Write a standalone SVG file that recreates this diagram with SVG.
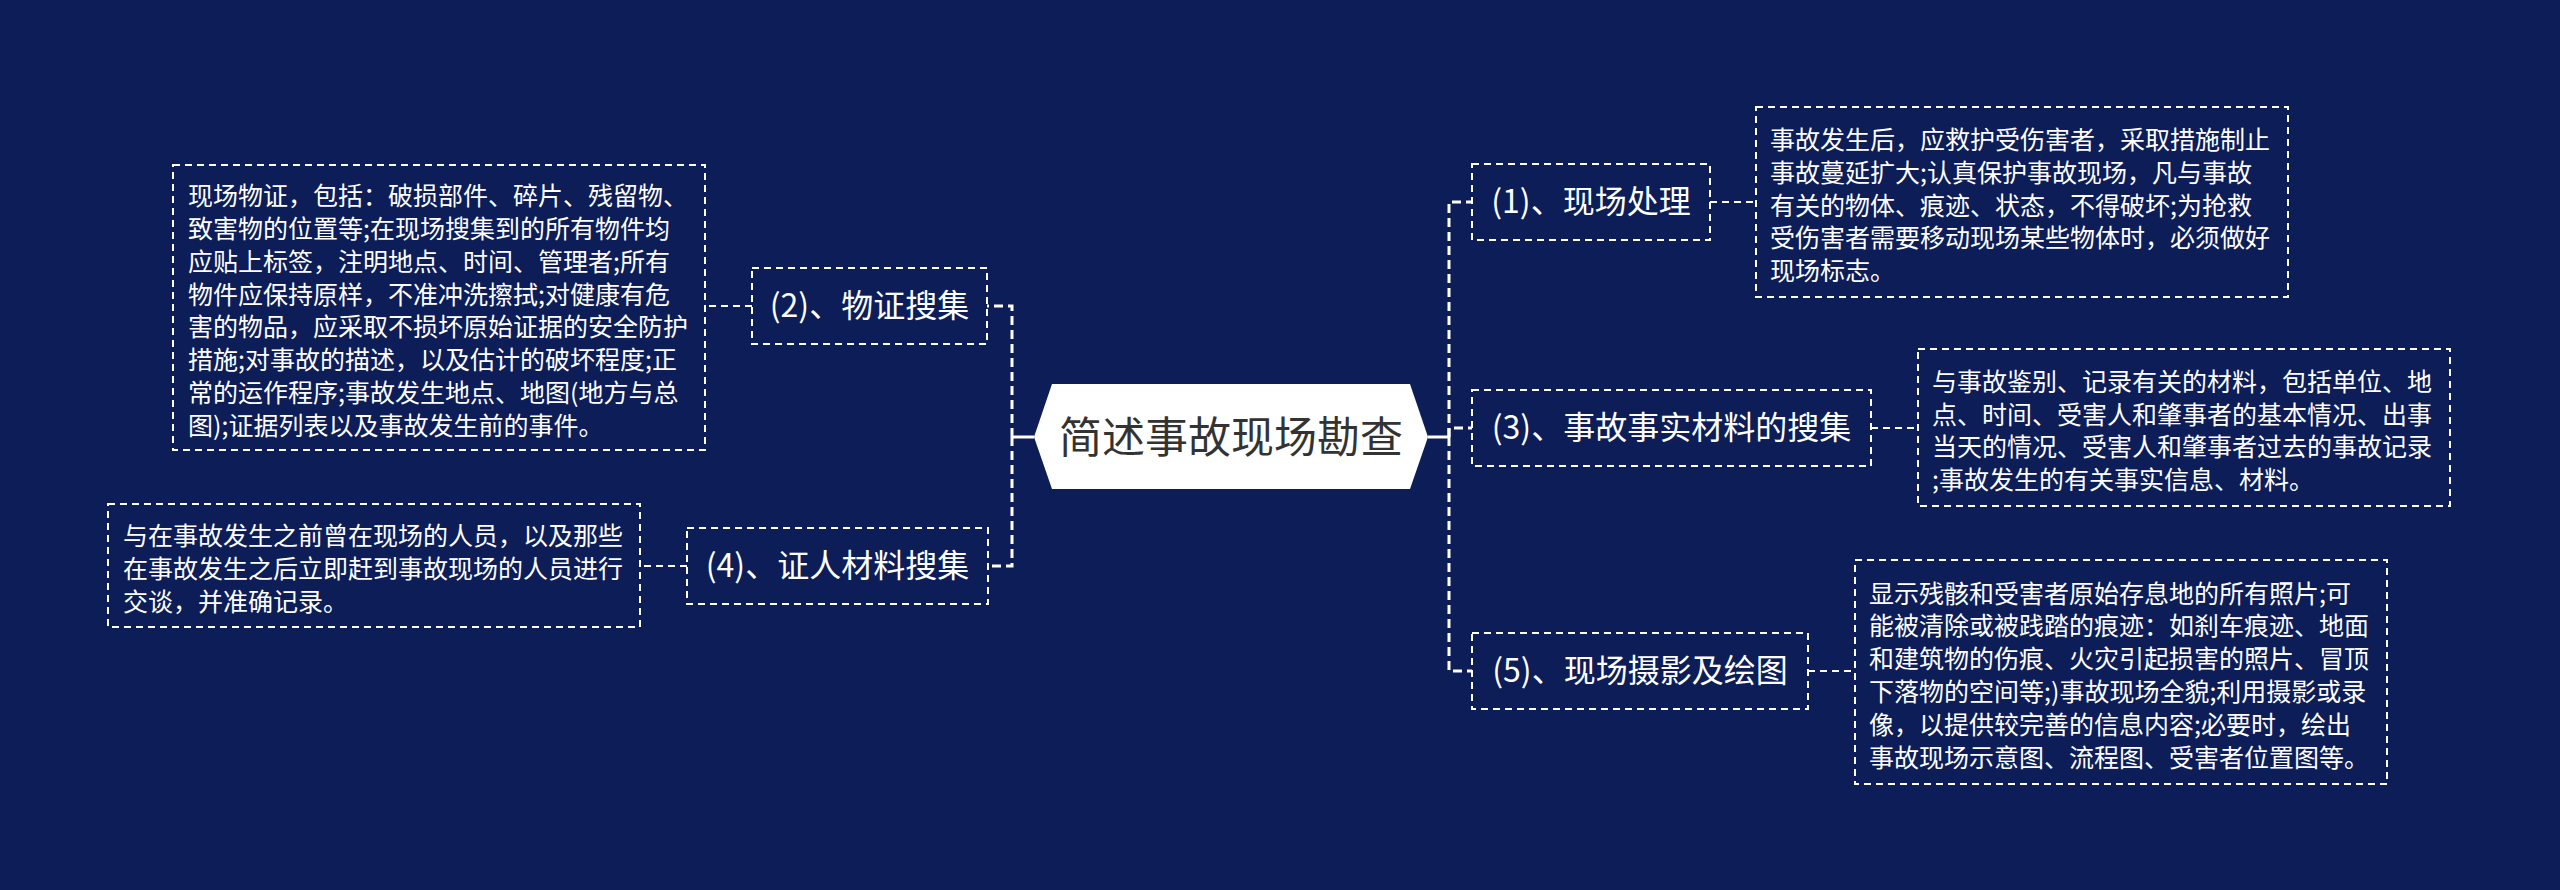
<svg xmlns="http://www.w3.org/2000/svg" width="2560" height="890" viewBox="0 0 2560 890">
<style>
.bg{fill:#0c1d58}
.conn{fill:none;stroke:#ffffff;stroke-width:3;stroke-dasharray:9 5}
.solid{fill:none;stroke:#ffffff;stroke-width:3}
.link{fill:none;stroke:#ffffff;stroke-width:2;stroke-dasharray:7 5}
.box{fill:none;stroke:#ffffff;stroke-width:2;stroke-dasharray:7 5}
.lbl{font-family:"Noto Sans CJK SC","Noto Sans",sans-serif;font-size:32px;fill:#ffffff;text-anchor:middle}
.txt{font-family:"Noto Sans CJK SC","Noto Sans",sans-serif;font-size:25px;fill:#ffffff}
.root{font-family:"Noto Sans CJK SC","Noto Sans",sans-serif;font-size:43px;fill:#333333;text-anchor:middle}
</style>
<rect class="bg" x="0" y="0" width="2560" height="890"/>
<g id="connectors">
<path class="solid" d="M1428 437 H1449"/>
<path class="conn" d="M1449 437 V202 H1472"/>
<path class="conn" d="M1449 437 V428 H1472"/>
<path class="conn" d="M1449 437 V671 H1472"/>
<path class="solid" d="M1034 437 H1012"/>
<path class="conn" d="M1012 437 V306 H987"/>
<path class="conn" d="M1012 437 V566 H988"/>
<path class="link" d="M1710 202 H1756"/>
<path class="link" d="M1871 428 H1918"/>
<path class="link" d="M1808 671 H1855"/>
<path class="link" d="M752 306 H705"/>
<path class="link" d="M687 566 H640"/>
</g>
<g id="root">
<polygon points="1034,437 1052,384 1410,384 1428,437 1410,489 1052,489" fill="#ffffff"/>
<text class="root" x="1231" y="453">简述事故现场勘查</text>
</g>
<g id="n1">
<rect class="box" x="1472" y="164" width="238" height="76"/>
<text class="lbl" x="1591" y="213">(1)、现场处理</text>
</g>
<g id="n1-detail">
<rect class="box" x="1756" y="107" width="532" height="190"/>
<text class="txt" x="1770"><tspan x="1770" y="149">事故发生后，应救护受伤害者，采取措施制止</tspan><tspan x="1770" y="181.8">事故蔓延扩大;认真保护事故现场，凡与事故</tspan><tspan x="1770" y="214.6">有关的物体、痕迹、状态，不得破坏;为抢救</tspan><tspan x="1770" y="247.4">受伤害者需要移动现场某些物体时，必须做好</tspan><tspan x="1770" y="280.2">现场标志。</tspan></text>
</g>
<g id="n3">
<rect class="box" x="1472" y="390" width="399" height="76"/>
<text class="lbl" x="1671.5" y="439">(3)、事故事实材料的搜集</text>
</g>
<g id="n3-detail">
<rect class="box" x="1918" y="349" width="532" height="157"/>
<text class="txt"><tspan x="1932" y="390.8">与事故鉴别、记录有关的材料，包括单位、地</tspan><tspan x="1932" y="423.6">点、时间、受害人和肇事者的基本情况、出事</tspan><tspan x="1932" y="456.4">当天的情况、受害人和肇事者过去的事故记录</tspan><tspan x="1932" y="489.2">;事故发生的有关事实信息、材料。</tspan></text>
</g>
<g id="n5">
<rect class="box" x="1472" y="633" width="336" height="76"/>
<text class="lbl" x="1640" y="682">(5)、现场摄影及绘图</text>
</g>
<g id="n5-detail">
<rect class="box" x="1855" y="560" width="532" height="224"/>
<text class="txt"><tspan x="1869" y="602.5">显示残骸和受害者原始存息地的所有照片;可</tspan><tspan x="1869" y="635.3">能被清除或被践踏的痕迹：如刹车痕迹、地面</tspan><tspan x="1869" y="668.1">和建筑物的伤痕、火灾引起损害的照片、冒顶</tspan><tspan x="1869" y="700.9">下落物的空间等;)事故现场全貌;利用摄影或录</tspan><tspan x="1869" y="733.7">像，以提供较完善的信息内容;必要时，绘出</tspan><tspan x="1869" y="766.5">事故现场示意图、流程图、受害者位置图等。</tspan></text>
</g>
<g id="n2">
<rect class="box" x="752" y="268" width="235" height="76"/>
<text class="lbl" x="869.5" y="317">(2)、物证搜集</text>
</g>
<g id="n2-detail">
<rect class="box" x="173" y="165" width="532" height="285"/>
<text class="txt"><tspan x="188" y="205.2">现场物证，包括：破损部件、碎片、残留物、</tspan><tspan x="188" y="238">致害物的位置等;在现场搜集到的所有物件均</tspan><tspan x="188" y="270.8">应贴上标签，注明地点、时间、管理者;所有</tspan><tspan x="188" y="303.6">物件应保持原样，不准冲洗擦拭;对健康有危</tspan><tspan x="188" y="336.4">害的物品，应采取不损坏原始证据的安全防护</tspan><tspan x="188" y="369.2">措施;对事故的描述，以及估计的破坏程度;正</tspan><tspan x="188" y="402">常的运作程序;事故发生地点、地图(地方与总</tspan><tspan x="188" y="434.8">图);证据列表以及事故发生前的事件。</tspan></text>
</g>
<g id="n4">
<rect class="box" x="687" y="528" width="301" height="76"/>
<text class="lbl" x="837.5" y="577">(4)、证人材料搜集</text>
</g>
<g id="n4-detail">
<rect class="box" x="108" y="504" width="532" height="123"/>
<text class="txt"><tspan x="123" y="545.2">与在事故发生之前曾在现场的人员，以及那些</tspan><tspan x="123" y="578">在事故发生之后立即赶到事故现场的人员进行</tspan><tspan x="123" y="610.8">交谈，并准确记录。</tspan></text>
</g>
</svg>
